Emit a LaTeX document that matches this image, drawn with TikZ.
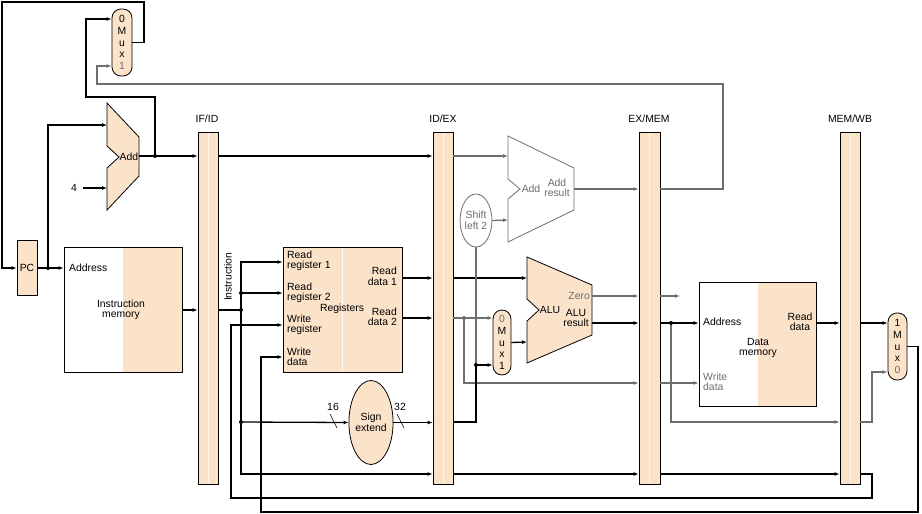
\documentclass[tikz,border=0pt]{standalone}
\usepackage{fontspec}
\setmainfont{Liberation Sans}
\usetikzlibrary{shapes.geometric,arrows.meta,calc}
\definecolor{peach}{RGB}{251,227,201}
\definecolor{wgray}{RGB}{110,110,110}
\definecolor{mgray}{RGB}{130,100,130}
\begin{document}
\begin{tikzpicture}[x=1pt,y=-1pt,
  font=\fontsize{10.4}{10.5}\selectfont,
  wire/.style={line width=1.3pt,black},
  gwire/.style={line width=1.3pt,wgray},
  arr/.style={-{Latex[length=5pt,width=4pt]}},
  pipereg/.style={draw,fill=peach,minimum width=20pt,minimum height=352pt,inner sep=0pt,line width=0.8pt,
    path picture={\draw[white,opacity=0.7,line width=0.8pt] (path picture bounding box.north) -- (path picture bounding box.south);}},
  halfbox/.style={draw,line width=0.8pt,inner sep=0pt,
    path picture={\fill[peach] (path picture bounding box.north) rectangle (path picture bounding box.south east);}},
  mux/.style={draw,fill=peach,rounded corners=9pt,minimum width=19pt,minimum height=66pt,inner sep=0pt,align=center,line width=0.8pt,font=\fontsize{10.4}{11.7}\selectfont},
  lbl/.style={inner sep=0pt,align=left},
  clbl/.style={inner sep=0pt,align=center},
  rlbl/.style={inner sep=0pt,align=right},
  slash/.style={line width=0.6pt,black}
]
\useasboundingbox (0,0) rectangle (922,514);

% ---------- pipeline registers ----------
\node[pipereg] (ifid) at (208,308) {};
\node[pipereg] (idex) at (443,308) {};
\node[pipereg,minimum width=21pt] (exmem) at (649.5,308) {};
\node[pipereg] (memwb) at (850,308) {};
\node (tifid) at (207,119) {IF/ID};
\node (tidex) at (443,119) {ID/EX};
\node (texmem) at (649,119) {EX/MEM};
\node (tmemwb) at (850,119) {MEM/WB};

% ---------- blocks ----------
\node[draw,fill=peach,line width=0.8pt,minimum width=20pt,minimum height=55pt,inner sep=0pt] (pc) at (27,268) {PC};
\node[halfbox,minimum width=118pt,minimum height=125pt] (imem) at (123,309.5) {};
\node[lbl,anchor=west] (taddr1) at (69,268) {Address};
\node[clbl] (timem) at (121,310) {Instruction\\memory};

\node[draw,fill=peach,line width=0.8pt,minimum width=119pt,minimum height=125pt,inner sep=0pt,
  path picture={\draw[white,opacity=0.8,line width=0.8pt] (path picture bounding box.north) -- (path picture bounding box.south);}] (regs) at (342.5,309.5) {};
\node[lbl,anchor=west] (rr1) at (287,261) {Read\\register 1};
\node[lbl,anchor=west] (rr2) at (287,293) {Read\\register 2};
\node[lbl,anchor=west] (wr) at (287,325) {Write\\register};
\node[lbl,anchor=west] (wd) at (287,357) {Write\\data};
\node[clbl] (tregs) at (342,309) {Registers};
\node[rlbl,anchor=east] (rd1) at (397,276.5) {Read\\data 1};
\node[rlbl,anchor=east] (rd2) at (397,317) {Read\\data 2};

\node[halfbox,minimum width=117pt,minimum height=124pt] (dmem) at (757.5,344) {};
\node[lbl,anchor=west] (taddr2) at (703,322) {Address};
\node[clbl] (trd) at (800,322) {Read\\data};
\node[clbl] (tdmem) at (758,348) {Data\\memory};
\node[lbl,anchor=west,text=wgray] (twd) at (703,382) {Write\\data};

\node[ellipse,draw=wgray,fill=white,line width=0.8pt,minimum width=29pt,minimum height=53pt,inner sep=0pt,align=center,text=wgray] (shift) at (476,220.5) {Shift\\left 2};
\node[ellipse,draw,fill=peach,line width=0.8pt,minimum width=39pt,minimum height=84pt,inner sep=0pt,align=center] (sext) at (371,422.5) {Sign\\extend};
\node (t16) at (333,407) {16};
\node (t32) at (400,407) {32};

% muxes
\node[mux,minimum width=20pt,minimum height=67pt] (mtop) at (122,42.5) {0\\M\\u\\x\\\textcolor{mgray}{1}};
\node[mux,minimum width=18pt,minimum height=65pt] (malu) at (502,342.5) {\textcolor{wgray}{0}\\M\\u\\x\\1};
\node[mux,minimum width=19pt,minimum height=67pt] (mwb) at (897.5,346.5) {1\\M\\u\\x\\\textcolor{wgray}{0}};

% adders and ALU
\draw[fill=peach,line width=0.8pt] (107,103) -- (139,137) -- (139,176) -- (107,210) -- (107,168) -- (119,157) -- (107,146) -- cycle;
\node (tadd1) at (129,157) {Add};
\coordinate (add1in1) at (107,125);
\coordinate (add1in2) at (107,188);
\coordinate (add1out) at (139,156);

\draw[draw=wgray,fill=white,line width=0.8pt] (508,136) -- (574,168) -- (574,210) -- (508,242) -- (508,199) -- (520,189) -- (508,179) -- cycle;
\node[text=wgray] (tadd2) at (531,189) {Add};
\node[clbl,text=wgray] (tadd2r) at (557,188) {Add\\result};
\coordinate (add2in1) at (508,156);
\coordinate (add2in2) at (508,220);
\coordinate (add2out) at (574,189);

\draw[fill=peach,line width=0.8pt] (527,257) -- (592,285) -- (592,335) -- (527,363) -- (527,321) -- (539,310) -- (527,299) -- cycle;
\node (talu) at (550,310) {ALU};
\node[rlbl,anchor=east,text=wgray] (tzero) at (590,296) {Zero};
\node[clbl] (talur) at (576,318) {ALU\\result};
\coordinate (aluin1) at (527,278);
\coordinate (aluin2) at (527,342);
\coordinate (aluzero) at (592,296);
\coordinate (alures) at (592,323);

\node (t4) at (74,188) {4};
\node[rotate=90] (tinstr) at (228,277) {Instruction};

% ---------- junctions ----------
\coordinate (j1) at (48,268);
\coordinate (j2) at (155,156);
\coordinate (j3) at (241,310);
\coordinate (j4) at (241,293);
\coordinate (j5) at (241,422);
\coordinate (j6) at (464,318);
\coordinate (j7) at (476,365);
\coordinate (j8) at (671,323);
\coordinate (s4) at (83,188);

% ---------- IF stage ----------
\draw[wire,arr] (mtop.east) -- (144,42.5) -- (144,2) -- (2,2) |- (pc.west);
\draw[wire,arr] (pc.east) -- (imem.west |- pc.east);
\draw[wire,arr] (j1) |- (add1in1);
\draw[wire,arr] (s4) -- (add1in2);
\draw[wire,arr] (add1out) -- (ifid.west |- add1out);
\draw[wire,arr] (j2) -- (155,97) -- (86,97) |- (mtop.west |- 0,19);
\draw[gwire,arr] (exmem.east |- 0,189) -- (723,189) -- (723,84) -- (97,84) |- (mtop.west |- 0,66);
\draw[wire,arr] (imem.east |- 0,310) -- (ifid.west |- 0,310);

% ---------- ID stage ----------
\draw[wire] (ifid.east |- j3) -- (j3);
\draw[wire,arr] (j3) |- (regs.west |- 0,262);
\draw[wire,arr] (j4) -- (regs.west |- j4);
\draw[wire,arr] (j3) |- (idex.west |- 0,474);
\draw[wire,arr] (j5) -- (sext.west);
\draw[wire,arr] (sext.east) -- (idex.west |- sext.east);
\draw[slash] (330,414) -- (337,428);
\draw[slash] (397,414) -- (404,428);
\draw[wire,arr] (memwb.east |- 0,474) -- (872,474) -- (872,498) -- (231,498) |- (regs.west |- 0,325);
\draw[wire,arr] (mwb.east) -- (918,346.5) -- (918,512) -- (261,512) |- (regs.west |- 0,357);
\draw[wire,arr] (ifid.east |- 0,156) -- (idex.west |- 0,156);
\draw[wire,arr] (regs.east |- 0,278) -- (idex.west |- 0,278);
\draw[wire,arr] (regs.east |- 0,318) -- (idex.west |- 0,318);

% ---------- EX stage ----------
\draw[gwire,arr] (idex.east |- add2in1) -- (add2in1);
\draw[gwire,arr] (shift.east) -- (add2in2);
\draw[gwire,arr] (add2out) -- (exmem.west |- add2out);
\draw[wire,arr] (idex.east |- aluin1) -- (aluin1);
\draw[gwire,arr] (idex.east |- 0,318) -- (malu.west |- 0,318);
\draw[gwire,arr] (j6) |- (exmem.west |- 0,383);
\draw[gwire] (j7) -- (shift.south);
\draw[wire] (idex.east |- 0,422) -| (j7);
\draw[wire,arr] (j7) -- (malu.west |- j7);
\draw[wire,arr] (malu.east) -- (aluin2);
\draw[gwire,arr] (aluzero) -- (exmem.west |- aluzero);
\draw[wire,arr] (alures) -- (exmem.west |- alures);
\draw[wire,arr] (idex.east |- 0,474) -- (exmem.west |- 0,474);

% ---------- MEM stage ----------
\draw[gwire,arr] (exmem.east |- 0,296) -- (680,296);
\draw[wire,arr] (exmem.east |- j8) -- (dmem.west |- j8);
\draw[gwire,arr] (j8) |- (memwb.west |- 0,422);
\draw[gwire,arr] (exmem.east |- 0,383) -- (dmem.west |- 0,383);
\draw[wire,arr] (dmem.east |- 0,323) -- (memwb.west |- 0,323);
\draw[wire,arr] (exmem.east |- 0,474) -- (memwb.west |- 0,474);

% ---------- WB stage ----------
\draw[wire,arr] (memwb.east |- 0,323) -- (mwb.west |- 0,323);
\draw[gwire,arr] (memwb.east |- 0,422) -- (872,422) |- (mwb.west |- 0,372);

% dots
\foreach \j in {j1,j2,j3,j4,j5,j7,j8} \fill (\j) circle (2pt);
\fill[wgray] (j6) circle (2pt);
\end{tikzpicture}
\end{document}
